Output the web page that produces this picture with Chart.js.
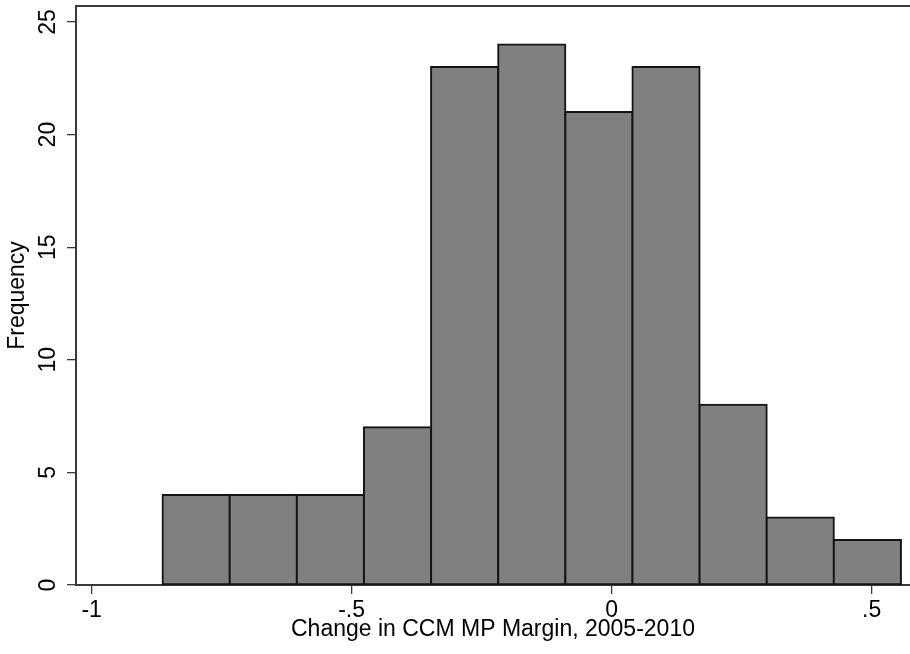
<!DOCTYPE html>
<html>
<head>
<meta charset="utf-8">
<title>Change in CCM MP Margin, 2005-2010</title>
<script src="https://cdn.jsdelivr.net/npm/chart.js@4.4.1/dist/chart.umd.min.js"></script>
<style>
  html, body { margin: 0; padding: 0; background: #ffffff; }
  canvas { display: block; }
</style>
</head>
<body>
<canvas id="hist" width="910" height="654"></canvas>
<script>
// Histogram bins: first left edge, common width, and count per bin
const binStart = -0.8635;
const binWidth = 0.12907;
const counts = [4, 4, 4, 7, 23, 24, 21, 23, 8, 3, 2];

// Axis ticks and ranges
const xTickValues = [-1, -0.5, 0, 0.5];
const xTickLabels = ['-1', '-.5', '0', '.5'];
const yTickValues = [0, 5, 10, 15, 20, 25];
const xRange = [-1.030, 0.5737];
const yRange = [0, 25.71];

const FONT = "'Liberation Sans', Arial, Helvetica, sans-serif";
const FONT_SIZE = 23;
const AXIS_COLOR = '#3a3a3a';

// one bar per bin, centred on the bin midpoint
const points = counts.map((c, i) => ({ x: binStart + (i + 0.5) * binWidth, y: c }));

// top edge of the plot region
const frameTop = {
  id: 'frameTop',
  afterDraw(chart) {
    const { ctx, chartArea } = chart;
    ctx.save();
    ctx.strokeStyle = AXIS_COLOR;
    ctx.lineWidth = 2;
    ctx.beginPath();
    ctx.moveTo(chartArea.left, chartArea.top);
    ctx.lineTo(chartArea.right, chartArea.top);
    ctx.stroke();
    ctx.restore();
  }
};

new Chart(document.getElementById('hist'), {
  type: 'bar',
  data: {
    datasets: [{
      data: points,
      backgroundColor: '#808080',
      borderColor: '#141414',
      borderWidth: 2,
      borderSkipped: false,
      inflateAmount: 1,
      barPercentage: 1,
      categoryPercentage: 1
    }]
  },
  options: {
    responsive: false,
    animation: false,
    devicePixelRatio: 1,
    layout: { padding: { top: 6, left: 0, right: 0, bottom: 0 } },
    plugins: {
      legend: { display: false },
      tooltip: { enabled: false }
    },
    scales: {
      x: {
        type: 'linear',
        offset: false,
        min: xRange[0],
        max: xRange[1],
        afterBuildTicks(scale) { scale.ticks = xTickValues.map(v => ({ value: v })); },
        afterFit(scale) {
          scale.height = 69;
          scale.paddingLeft = 0;
          scale.paddingRight = 0;
        },
        grid: {
          display: true,
          offset: false,
          drawOnChartArea: false,
          drawTicks: true,
          tickLength: 9,
          color: AXIS_COLOR,
          lineWidth: 1.3
        },
        border: { display: true, color: AXIS_COLOR, width: 2 },
        ticks: {
          autoSkip: false,
          maxRotation: 0,
          minRotation: 0,
          padding: 3,
          color: '#000000',
          font: { family: FONT, size: FONT_SIZE },
          callback(value) {
            const i = xTickValues.indexOf(value);
            return i >= 0 ? xTickLabels[i] : '';
          }
        },
        title: {
          display: true,
          text: 'Change in CCM MP Margin, 2005-2010',
          color: '#000000',
          font: { family: FONT, size: FONT_SIZE },
          padding: { top: 0, bottom: 11 }
        }
      },
      y: {
        type: 'linear',
        min: yRange[0],
        max: yRange[1],
        afterBuildTicks(scale) { scale.ticks = yTickValues.map(v => ({ value: v })); },
        afterFit(scale) {
          scale.width = 76;
          scale.paddingTop = 0;
          scale.paddingBottom = 0;
        },
        grid: {
          display: true,
          drawOnChartArea: false,
          drawTicks: true,
          tickLength: 9,
          color: AXIS_COLOR,
          lineWidth: 1.3
        },
        border: { display: true, color: AXIS_COLOR, width: 2 },
        ticks: {
          autoSkip: false,
          minRotation: 90,
          maxRotation: 90,
          crossAlign: 'center',
          padding: 6,
          color: '#000000',
          font: { family: FONT, size: FONT_SIZE },
          callback(value) { return String(value); }
        },
        title: {
          display: true,
          text: 'Frequency',
          color: '#000000',
          font: { family: FONT, size: FONT_SIZE },
          padding: { top: 4, bottom: 0 }
        }
      }
    }
  },
  plugins: [frameTop]
});
</script>
</body>
</html>
